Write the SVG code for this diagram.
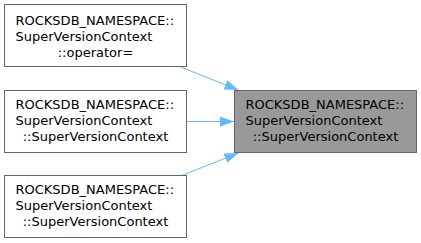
<svg xmlns="http://www.w3.org/2000/svg" width="421" height="243" viewBox="0 0 421 243">
  <style>
    .box { fill: #ffffff; stroke: #666666; stroke-width: 1; }
    .main { fill: #999999; stroke: #666666; stroke-width: 1; }
    text { font-family: "DejaVu Sans", "Liberation Sans", sans-serif; font-size: 13px; fill: #000000; }
    .mid { text-anchor: middle; }
    .edge { fill: none; stroke: #63b8ff; stroke-width: 1; marker-end: url(#arrow); }
  </style>
  <defs>
    <marker id="arrow" viewBox="0 0 14 10" refX="14" refY="5" markerWidth="14" markerHeight="10" markerUnits="userSpaceOnUse" orient="auto">
      <path d="M0,0 L14,5 L0,10 Z" fill="#63b8ff"/>
    </marker>
  </defs>

  <g id="connectors">
    <path class="edge" d="M180.5,67 L238.5,90"/>
    <path class="edge" d="M186.5,121.5 L234,121.5"/>
    <path class="edge" d="M180.5,176 L238.5,153"/>
  </g>

  <g id="node-main">
    <rect class="main" x="234.5" y="90.5" width="182" height="62"/>
    <text x="245.5" y="109">ROCKSDB_NAMESPACE::</text>
    <text x="245.5" y="125">SuperVersionContext</text>
    <text class="mid" x="325.5" y="141">::SuperVersionContext</text>
  </g>

  <g id="node-operator">
    <rect class="box" x="4.5" y="4.5" width="182" height="62"/>
    <text x="15.5" y="24.75">ROCKSDB_NAMESPACE::</text>
    <text x="15.5" y="40.75">SuperVersionContext</text>
    <text class="mid" x="95.5" y="56.75">::operator=</text>
  </g>

  <g id="node-ctor-a">
    <rect class="box" x="4.5" y="90.5" width="182" height="62"/>
    <text x="15.5" y="109">ROCKSDB_NAMESPACE::</text>
    <text x="15.5" y="125">SuperVersionContext</text>
    <text class="mid" x="95.5" y="141">::SuperVersionContext</text>
  </g>

  <g id="node-ctor-b">
    <rect class="box" x="4.5" y="175.5" width="182" height="62"/>
    <text x="15.5" y="194">ROCKSDB_NAMESPACE::</text>
    <text x="15.5" y="210">SuperVersionContext</text>
    <text class="mid" x="95.5" y="226">::SuperVersionContext</text>
  </g>
</svg>
